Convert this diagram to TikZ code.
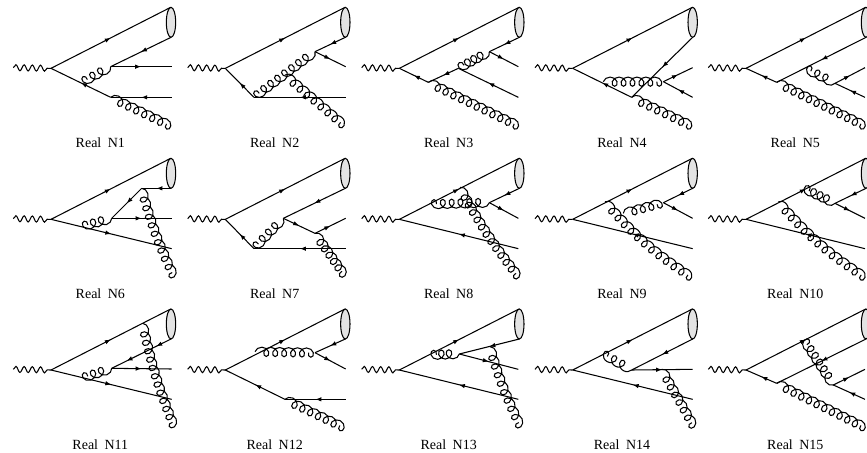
\documentclass[tikz,border=0pt]{standalone}
\usepackage{fontspec}
\setmainfont{Liberation Serif}
\usetikzlibrary{arrows.meta,decorations.pathmorphing,decorations.markings}

% Coil with a whole number of loops, the last loop reaching the end of the path
\newcommand{\gluonpt}[3]{\pgfpoint{#1*\gluonrad+#3*\gluonstep/12}{#2*\pgfdecorationsegmentamplitude}}
\pgfdeclaredecoration{gluoncoil}{init}{
	\state{init}[width=0pt,next state=loop,persistent precomputation={
		\pgfmathsetlengthmacro{\gluonrad}{\pgfdecorationsegmentaspect*\pgfdecorationsegmentamplitude}
		\pgfmathsetlengthmacro{\gluonrun}{\pgfdecoratedpathlength-1.4*\gluonrad}
		\pgfmathsetlengthmacro{\gluonstep}{\gluonrun/max(1,ceil(\gluonrun/\pgfdecorationsegmentlength))}
	}]{}
	\state{loop}[switch if less than=1.4*\gluonrad+0.5*\gluonstep to final,width=\gluonstep]{
		\pgfpathcurveto{\gluonpt{0}{0.555}{1}}{\gluonpt{0.445}{1}{2}}{\gluonpt{1}{1}{3}}
		\pgfpathcurveto{\gluonpt{1.555}{1}{4}}{\gluonpt{2}{0.555}{5}}{\gluonpt{2}{0}{6}}
		\pgfpathcurveto{\gluonpt{2}{-0.555}{7}}{\gluonpt{1.555}{-1}{8}}{\gluonpt{1}{-1}{9}}
		\pgfpathcurveto{\gluonpt{0.445}{-1}{10}}{\gluonpt{0}{-0.555}{11}}{\gluonpt{0}{0}{12}}
	}
	\state{final}{}
}

\tikzset{
	fermion/.style={postaction={decorate,decoration={markings,mark=at position #1 with {\arrow{Latex[length=6pt,width=4.5pt]}}}}},
	fermion/.default=0.5,
	gluon/.style={decorate,decoration={gluoncoil,aspect=1,segment length=9.3pt,amplitude=4.6pt}},
	photon/.style={decorate,decoration={snake,segment length=8.2pt,amplitude=3pt}},
	jetfill/.style={fill=gray!22},
	caption/.style={font=\fontsize{14}{16}\selectfont,inner sep=0pt,execute at begin node={\spaceskip=6.5pt\relax}}
}

% Photon, top quark line and jet cone shared by all diagrams
\newcommand{\jetcone}[2]{
	\coordinate (vtx) at (0,0);
	\coordinate (begin) at (-113,-2);
	\coordinate (tip) at (359,-183);
	\coordinate (bot) at (360,-93);
	\draw[photon] (begin) -- (vtx);
	\draw[fermion] (vtx) -- (tip);
	\draw[jetfill] (360,-138) ellipse [x radius=14,y radius=45];
	\node[caption] (#1) at (148,224) {#2};
}

\begin{document}
\begin{tikzpicture}[x=0.3333pt,y=-0.3333pt,line width=1.05pt]
	
	\clip (0,0) rectangle (2601,1359);
	
	% N1
	\begin{scope}[shift={(153,205)}]
		\jetcone{n1}{Real N1}
		\coordinate (qa) at (179,87);
		\coordinate (qb) at (179,-5);
		\coordinate (ga) at (92,43);
		\draw[fermion] (qa) -- (vtx);
		\draw[fermion] (362,87) -- (qa);
		\draw[fermion] (bot) -- (qb);
		\draw[fermion] (qb) -- (362,-5);
		\draw[gluon] (qb) -- (ga);
		\draw[gluon] (qa) -- (364,175);
	\end{scope}
	
	% N2
	\begin{scope}[shift={(676,205)}]
		\jetcone{n2}{Real N2}
		\coordinate (qa) at (86,87);
		\coordinate (qb) at (269,-50);
		\draw[fermion] (qa) -- (vtx);
		\draw[fermion] (361,87) -- (qa);
		\draw[fermion] (bot) -- (qb);
		\draw[fermion] (qb) -- (361,-5);
		\draw[gluon] (qb) -- (qa);
		\draw[gluon] (179,20) -- (361,175);
	\end{scope}
	
	% N3
	\begin{scope}[shift={(1198,205)}]
		\jetcone{n3}{Real N3}
		\coordinate (qa) at (87,42);
		\coordinate (qb) at (177,0);
		\coordinate (qc) at (270,-50);
		\draw[fermion] (qa) -- (vtx);
		\draw[fermion] (qb) -- (qa);
		\draw[fermion] (357,87) -- (qb);
		\draw[fermion] (bot) -- (qc);
		\draw[fermion] (qc) -- (357,-5);
		\draw[gluon] (qc) -- (qb);
		\draw[gluon] (qa) -- (362,175);
	\end{scope}
	
	% N4
	\begin{scope}[shift={(1718,205)}]
		\jetcone{n4}{Real N4}
		\coordinate (qa) at (177,87);
		\coordinate (qb) at (272,40);
		\draw[fermion] (qa) -- (vtx);
		\draw[fermion] (bot) -- (qa);
		\draw[fermion] (qb) -- (360,-2);
		\draw[fermion] (360,87) -- (qb);
		\draw[gluon] (92,40) -- (qb);
		\draw[gluon] (qa) -- (362,175);
	\end{scope}
	
	% N5
	\begin{scope}[shift={(2238,205)}]
		\jetcone{n5}{Real N5}
		\coordinate (qa) at (92,42);
		\coordinate (qb) at (267,45);
		\draw[fermion] (qa) -- (vtx);
		\draw[fermion] (bot) -- (qa);
		\draw[fermion] (qb) -- (357,-2);
		\draw[fermion] (357,87) -- (qb);
		\draw[gluon] (qb) -- (177,0);
		\draw[gluon] (qa) -- (362,175);
	\end{scope}
	
	% N6
	\begin{scope}[shift={(153,658)}]
		\jetcone{n6}{Real N6}
		\coordinate (qa) at (182,-3);
		\coordinate (qb) at (272,-93);
		\draw[fermion] (vtx) -- (362,88);
		\draw[fermion] (bot) -- (qb);
		\draw[fermion] (qb) -- (qa);
		\draw[fermion] (qa) -- (362,-3);
		\draw[gluon] (qa) -- (92,22);
		\draw[gluon] (qb) to[bend right=5] (372,177);
	\end{scope}
	
	% N7
	\begin{scope}[shift={(676,658)}]
		\jetcone{n7}{Real N7}
		\coordinate (qa) at (86,88);
		\coordinate (qb) at (174,-3);
		\coordinate (qc) at (269,42);
		\draw[fermion] (qa) -- (vtx);
		\draw[fermion] (361,88) -- (qa);
		\draw[fermion] (bot) -- (qb);
		\draw[fermion] (qb) -- (qc);
		\draw[fermion] (qc) -- (361,-3);
		\draw[gluon] (qb) -- (qa);
		\draw[gluon] (qc) -- (361,172);
	\end{scope}
	
	% N8
	\begin{scope}[shift={(1198,658)}]
		\jetcone{n8}{Real N8}
		\coordinate (qa) at (270,-50);
		\draw[fermion] (357,88) -- (vtx);
		\draw[fermion] (bot) -- (qa);
		\draw[fermion] (qa) -- (357,-3);
		\draw[gluon] (qa) -- (92,-45);
		\draw[gluon] (182,-96) to[bend right=5] (362,177);
	\end{scope}
	
	% N9
	\begin{scope}[shift={(1718,658)}]
		\jetcone{n9}{Real N9}
		\coordinate (qa) at (272,-50);
		\draw[fermion] (360,88) -- (vtx);
		\draw[fermion] (bot) -- (qa);
		\draw[fermion] (qa) -- (360,-3);
		\draw[gluon] (152,-18) -- (qa);
		\draw[gluon] (97,-53) to[bend right=8] (362,177);
	\end{scope}
	
	% N10
	\begin{scope}[shift={(2238,658)}]
		\jetcone{n10}{Real N10}
		\coordinate (qa) at (267,-48);
		\draw[fermion] (357,88) -- (vtx);
		\draw[fermion] (bot) -- (qa);
		\draw[fermion] (qa) -- (357,-3);
		\draw[gluon] (qa) -- (172,-93);
		\draw[gluon] (97,-53) to[bend right=8] (362,177);
	\end{scope}
	
	% N11
	\begin{scope}[shift={(153,1110)}]
		\jetcone{n11}{Real N11}
		\coordinate (qa) at (182,-5);
		\draw[fermion] (vtx) -- (362,88);
		\draw[fermion=0.25,fermion=0.75] (bot) -- (qa);
		\draw[fermion] (qa) -- (362,-3);
		\draw[gluon] (qa) -- (92,25);
		\draw[gluon] (275,-140) to[bend right=5] (372,175);
	\end{scope}
	
	% N12
	\begin{scope}[shift={(676,1110)}]
		\jetcone{n12}{Real N12}
		\coordinate (qa) at (179,88);
		\coordinate (qb) at (269,-52);
		\draw[fermion] (qa) -- (vtx);
		\draw[fermion] (361,88) -- (qa);
		\draw[fermion] (bot) -- (qb);
		\draw[fermion] (qb) -- (361,-3);
		\draw[gluon] (89,-55) -- (qb);
		\draw[gluon] (qa) -- (361,175);
	\end{scope}
	
	% N13
	\begin{scope}[shift={(1198,1110)}]
		\jetcone{n13}{Real N13}
		\coordinate (qa) at (180,-48);
		\draw[fermion] (357,88) -- (vtx);
		\draw[fermion] (bot) -- (qa);
		\draw[fermion] (qa) -- (357,-2);
		\draw[gluon] (qa) -- (92,-45);
		\draw[gluon] (272,-70) to[bend right=5] (367,175);
	\end{scope}
	
	% N14
	\begin{scope}[shift={(1718,1110)}]
		\jetcone{n14}{Real N14}
		\coordinate (qa) at (177,0);
		\draw[fermion] (360,88) -- (vtx);
		\draw[fermion] (bot) -- (qa);
		\draw[fermion] (qa) -- (360,-2);
		\draw[gluon] (qa) -- (87,-50);
		\draw[gluon] (267,-2) -- (367,175);
	\end{scope}
	
	% N15
	\begin{scope}[shift={(2238,1110)}]
		\jetcone{n15}{Real N15}
		\coordinate (qa) at (92,40);
		\coordinate (qb) at (262,45);
		\draw[fermion] (qa) -- (vtx);
		\draw[fermion] (bot) -- (qa);
		\draw[fermion] (qb) -- (357,-2);
		\draw[fermion] (357,88) -- (qb);
		\draw[gluon] (qb) -- (172,-92);
		\draw[gluon] (qa) -- (362,175);
	\end{scope}
	
\end{tikzpicture}
\end{document}
